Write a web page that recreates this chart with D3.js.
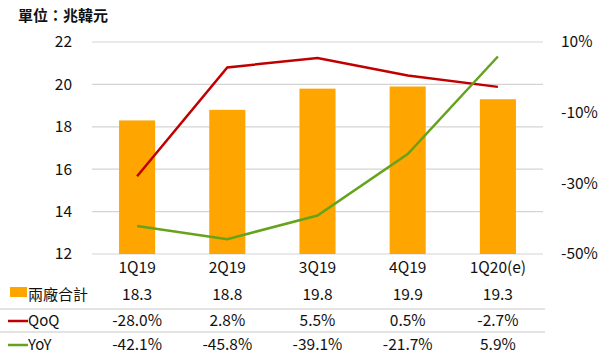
<!DOCTYPE html>
<html><head><meta charset="utf-8">
<script src="https://cdn.jsdelivr.net/npm/d3@7"></script>
<style>body{margin:0;background:#fff}text{font-family:"Noto Sans CJK TC","Noto Sans",sans-serif;fill:#111}</style>
</head><body>
<svg id="c" width="608" height="359"></svg>
<script>
const categories = ["1Q19","2Q19","3Q19","4Q19","1Q20(e)"];
const totals = [18.3, 18.8, 19.8, 19.9, 19.3];
const qoq = [-28.0, 2.8, 5.5, 0.5, -2.7];
const yoy = [-42.1, -45.8, -39.1, -21.7, 5.9];
const leftTicks = [12,14,16,18,20,22];
const rightTicks = [-50,-30,-10,10];
const seriesNames = ["兩廠合計","QoQ","YoY"];
const unitLabel = "單位：兆韓元";

const svg = d3.select("#c");
const x = d3.scaleBand().domain(categories).range([92,543]).paddingInner(0.6).paddingOuter(0.3);
const yL = d3.scaleLinear().domain([12,22]).range([254,42]);
const yR = d3.scaleLinear().domain([-50,10]).range([254,42]);

svg.append("text").attr("x",18).attr("y",21).attr("font-size",15).attr("font-weight",700).text(unitLabel);

// gridlines
svg.append("g").selectAll("line").data(leftTicks).join("line")
  .attr("x1",92).attr("x2",543).attr("y1",d=>yL(d)).attr("y2",d=>yL(d))
  .attr("stroke","#d4d4d4").attr("stroke-width",1.2);

// left axis
const gl = svg.append("g").attr("transform","translate(92,0)")
  .call(d3.axisLeft(yL).tickValues(leftTicks).tickSize(0).tickPadding(20));
gl.select(".domain").remove();
gl.selectAll("text").attr("font-size",15.5).style("font-family",'"Noto Sans CJK TC",sans-serif').attr("fill","#111");

// right axis
const gr = svg.append("g").attr("transform","translate(543,0)")
  .call(d3.axisRight(yR).tickValues(rightTicks).tickSize(0).tickPadding(18).tickFormat(d=>d+"%"));
gr.select(".domain").remove();
gr.selectAll("text").attr("font-size",15.5).style("font-family",'"Noto Sans CJK TC",sans-serif').attr("fill","#111");

// bars
svg.append("g").selectAll("rect").data(totals).join("rect")
  .attr("x",(d,i)=>x(categories[i])).attr("width",x.bandwidth())
  .attr("y",d=>yL(d)).attr("height",d=>yL(12)-yL(d)).attr("fill","#FFA500");

const cx = c => x(c)+x.bandwidth()/2;
const line = d3.line().x((d,i)=>cx(categories[i])).y(d=>yR(d));
svg.append("path").datum(qoq).attr("d",line).attr("fill","none").attr("stroke","#C00000").attr("stroke-width",2.5);
svg.append("path").datum(yoy).attr("d",line).attr("fill","none").attr("stroke","#66A31C").attr("stroke-width",2.5);

// table
const rowY = [268, 295, 321, 345];
svg.append("g").selectAll("text").data(categories).join("text")
  .attr("x",d=>cx(d)).attr("y",rowY[0]).attr("dy","0.35em").attr("text-anchor","middle").attr("font-size",15.5).text(d=>d);
const rows = [totals.map(d=>d.toFixed(1)), qoq.map(d=>d.toFixed(1)+"%"), yoy.map(d=>d.toFixed(1)+"%")];
rows.forEach((r,j)=>{
  svg.append("g").selectAll("text").data(r).join("text")
    .attr("x",(d,i)=>cx(categories[i])).attr("y",rowY[j+1]).attr("dy","0.35em").attr("text-anchor","middle").attr("font-size",15.5).text(d=>d);
});
[309, 332].forEach(yy=>svg.append("line").attr("x1",0).attr("x2",545).attr("y1",yy).attr("y2",yy).attr("stroke","#c8c8c8").attr("stroke-width",1.2));

// legend keys
svg.append("rect").attr("x",10).attr("y",287).attr("width",17).attr("height",10).attr("fill","#FFA500");
svg.append("line").attr("x1",8).attr("x2",28).attr("y1",rowY[2]).attr("y2",rowY[2]).attr("stroke","#C00000").attr("stroke-width",2.5);
svg.append("line").attr("x1",8).attr("x2",28).attr("y1",rowY[3]).attr("y2",rowY[3]).attr("stroke","#66A31C").attr("stroke-width",2.5);
seriesNames.forEach((n,j)=>svg.append("text").attr("x",28).attr("y",rowY[j+1]).attr("dy","0.35em").attr("font-size",15).text(n));
</script>
</body></html>
